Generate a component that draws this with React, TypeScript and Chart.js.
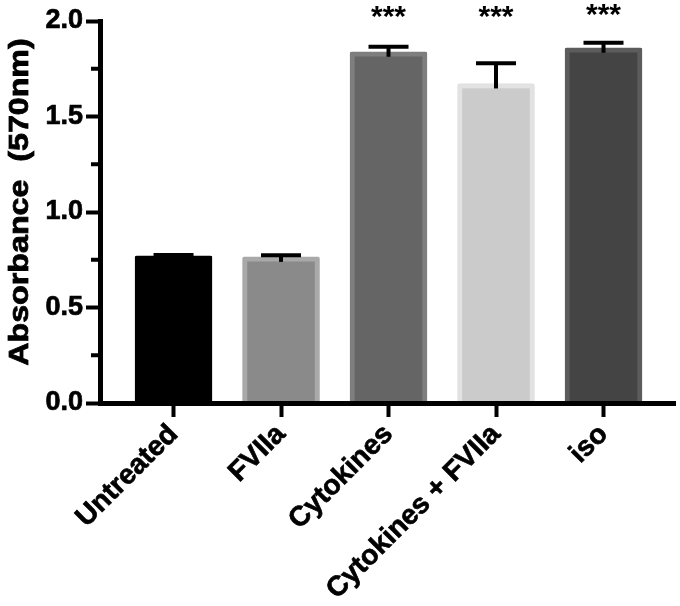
import React, { useEffect, useRef } from 'react';
import { Chart, registerables } from 'chart.js';

Chart.register(...registerables);

// ---- data ----
const categories = ['Untreated', 'FVIIa', 'Cytokines', 'Cytokines + FVIIa', 'iso'];
const means = [0.770, 0.765, 1.839, 1.673, 1.860];
const errors = [0.005, 0.008, 0.026, 0.106, 0.026];
const significance = ['', '', '***', '***', '***'];
const significanceLevels = [0, 0, 2.049, 2.045, 2.058];
const yMajorTicks = [0, 0.5, 1.0, 1.5, 2.0];
const yMinorTicks = [0.25, 0.75, 1.25, 1.75];
const yTitle = 'Absorbance  (570nm)';

// ---- styles ----
const fillColors = ['#000000', '#8a8a8a', '#656565', '#cbcbcb', '#444444'];
const borderColors = ['#000000', '#a9a9a9', '#7e7e7e', '#e2e2e2', '#5c5c5c'];
const FONT = '"Liberation Sans", Arial, Helvetica, sans-serif';

const overlay = {
  id: 'overlay',
  afterDraw(chart: any) {
    const ctx = chart.ctx as CanvasRenderingContext2D;
    const ys = chart.scales.y;
    const area = chart.chartArea;
    const meta = chart.getDatasetMeta(0);
    ctx.save();
    ctx.strokeStyle = '#000';
    ctx.lineWidth = 4;
    ctx.lineCap = 'butt';
    // minor y ticks
    yMinorTicks.forEach((v) => {
      const y = ys.getPixelForValue(v);
      ctx.beginPath();
      ctx.moveTo(area.left - 9, y);
      ctx.lineTo(area.left, y);
      ctx.stroke();
    });
    // error bars
    meta.data.forEach((bar: any, i: number) => {
      const x = bar.x;
      const yTop = ys.getPixelForValue(means[i] + errors[i]);
      const yBase = ys.getPixelForValue(means[i]) + 5;
      ctx.beginPath();
      ctx.moveTo(x, yBase);
      ctx.lineTo(x, yTop);
      ctx.stroke();
      ctx.beginPath();
      ctx.moveTo(x - 20, yTop);
      ctx.lineTo(x + 20, yTop);
      ctx.stroke();
    });
    // significance stars
    ctx.font = `bold 30px ${FONT}`;
    ctx.fillStyle = '#000';
    ctx.textAlign = 'center';
    ctx.textBaseline = 'alphabetic';
    significance.forEach((s, i) => {
      if (!s) return;
      const m = ctx.measureText(s);
      const cy = ys.getPixelForValue(significanceLevels[i]);
      const off = (m.actualBoundingBoxAscent - m.actualBoundingBoxDescent) / 2;
      ctx.fillText(s, meta.data[i].x, cy + off);
    });
    // y-axis title
    ctx.translate(28, (ys.top + ys.bottom) / 2 - 10);
    ctx.rotate(-Math.PI / 2);
    ctx.scale(1.15, 1);
    ctx.font = `bold 28px ${FONT}`;
    ctx.textAlign = 'center';
    ctx.textBaseline = 'alphabetic';
    ctx.lineWidth = 0.8;
    ctx.strokeStyle = '#000';
    ctx.fillText(yTitle, 0, 0);
    ctx.strokeText(yTitle, 0, 0);
    ctx.restore();
  },
};

export default function App() {
  const ref = useRef<HTMLCanvasElement>(null);
  useEffect(() => {
    const canvas = ref.current!;
    const chart = new Chart(canvas, {
      type: 'bar',
      data: {
        datasets: [
          {
            data: categories.map((_, i) => ({ x: i, y: means[i] })),
            backgroundColor: fillColors,
            borderColor: borderColors,
            borderWidth: 5,
            borderSkipped: 'start',
            borderRadius: 2,
            barThickness: 77,
          },
        ],
      },
      options: {
        responsive: false,
        animation: false,
        devicePixelRatio: 1,
        layout: { padding: { top: 21, right: 5, left: 0, bottom: 0 } },
        plugins: { legend: { display: false }, tooltip: { enabled: false } },
        scales: {
          x: {
            type: 'linear',
            min: -0.684,
            max: 4.665,
            offset: false,
            afterBuildTicks: (s: any) => {
              s.ticks = categories.map((_, i) => ({ value: i }));
            },
            afterFit: (s: any) => {
              s.height = 203;
            },
            grid: {
              offset: false,
              drawOnChartArea: false,
              drawTicks: true,
              tickLength: 14,
              tickWidth: 4,
              tickColor: '#000',
            },
            border: { display: true, color: '#000', width: 5, z: 1 },
            ticks: {
              autoSkip: false,
              minRotation: 45,
              maxRotation: 45,
              padding: 1,
              color: '#000',
              textStrokeColor: '#000',
              textStrokeWidth: 0.7,
              font: { family: FONT, size: 28, weight: 'bold' },
              callback: (v: any) => categories[Number(v)] ?? '',
            },
          },
          y: {
            type: 'linear',
            min: 0,
            max: 2,
            afterBuildTicks: (s: any) => {
              s.ticks = yMajorTicks.map((v) => ({ value: v }));
            },
            afterFit: (s: any) => {
              s.width = 100;
            },
            grid: {
              drawOnChartArea: false,
              drawTicks: true,
              tickLength: 14,
              tickWidth: 4,
              tickColor: '#000',
            },
            border: { display: true, color: '#000', width: 5, z: 1 },
            ticks: {
              padding: 3,
              color: '#000',
              textStrokeColor: '#000',
              textStrokeWidth: 0.7,
              font: { family: FONT, size: 27, weight: 'bold' },
              callback: (v: any) => Number(v).toFixed(1),
            },
          },
        },
      } as any,
      plugins: [overlay],
    });
    return () => chart.destroy();
  }, []);
  return (
    <div style={{ position: 'absolute', left: 0, top: 0, width: 680, height: 606, background: '#fff' }}>
      <canvas ref={ref} width={680} height={606} style={{ display: 'block' }} />
    </div>
  );
}
